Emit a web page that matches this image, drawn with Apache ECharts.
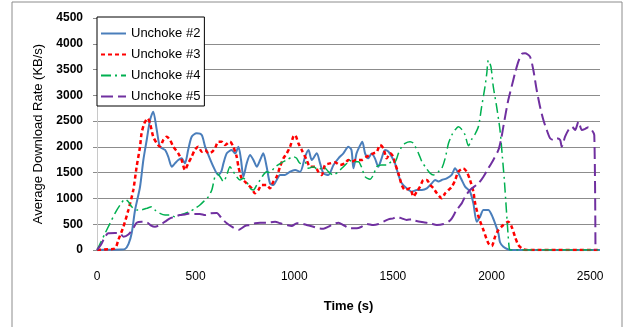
<!DOCTYPE html>
<html>
<head>
<meta charset="utf-8">
<script src="https://cdn.jsdelivr.net/npm/echarts@6/dist/echarts.min.js"></script>
<style>
  html, body { margin: 0; padding: 0; background: #fff; }
  #chart { width: 631px; height: 327px; }
</style>
</head>
<body>
<div id="chart"></div>
<script>
// series names
const names = ["Unchoke #2", "Unchoke #3", "Unchoke #4", "Unchoke #5"];

// [time (s), average download rate (KB/s)]
const unchoke2 = [[0,0],[60,5],[120,10],[142,20],[160,120],[176,330],[193,776],[218,1222],[235,1746],[252,2134],[269,2522],[285,2683],[303,2328],[319,2004],[345,1940],[361,1810],[379,1616],[395,1680],[412,1746],[429,1780],[446,1680],[462,1940],[480,2198],[505,2263],[531,2230],[548,2004],[565,1840],[590,1616],[615,1455],[630,1520],[641,1680],[658,1875],[683,1940],[700,1870],[717,2004],[730,1750],[742,1422],[759,1682],[776,1843],[793,1746],[810,1616],[827,1746],[843,1875],[860,1616],[877,1293],[894,1260],[911,1358],[928,1455],[953,1455],[979,1519],[1004,1550],[1030,1519],[1055,1810],[1072,1940],[1089,1746],[1114,1875],[1131,1680],[1148,1487],[1173,1455],[1199,1648],[1224,1778],[1249,1875],[1274,2004],[1290,1940],[1300,1584],[1316,1875],[1330,2000],[1345,2101],[1359,1875],[1375,1780],[1392,1870],[1409,1778],[1426,1616],[1443,1778],[1460,1940],[1477,1910],[1494,1810],[1511,1680],[1528,1455],[1545,1293],[1570,1196],[1596,1131],[1621,1164],[1647,1164],[1672,1196],[1697,1293],[1714,1358],[1731,1330],[1748,1358],[1773,1390],[1798,1455],[1815,1584],[1832,1487],[1849,1358],[1866,1228],[1891,1131],[1908,905],[1925,549],[1942,646],[1959,776],[1984,776],[2001,679],[2018,518],[2035,324],[2043,150],[2060,65],[2085,10],[2100,0],[2550,0]];

const unchoke3 = [[0,0],[40,10],[91,30],[108,194],[134,452],[159,776],[184,1164],[201,1616],[218,2004],[226,2263],[240,2457],[257,2555],[269,2457],[285,2198],[303,2070],[319,2004],[336,2134],[353,2198],[370,2134],[387,2004],[412,1875],[429,1746],[446,1552],[462,1680],[480,1810],[496,1940],[513,2004],[531,1907],[548,1940],[565,1875],[582,1900],[598,1972],[615,2101],[632,2101],[649,2037],[674,2101],[691,2004],[708,1810],[717,1616],[733,1390],[750,1325],[767,1261],[784,1196],[801,1100],[818,1164],[835,1261],[860,1261],[877,1196],[894,1325],[911,1422],[928,1616],[945,1778],[962,1875],[979,2004],[995,2198],[1004,2230],[1021,2070],[1038,1940],[1063,1746],[1080,1616],[1105,1616],[1122,1519],[1139,1455],[1156,1649],[1181,1680],[1207,1700],[1232,1648],[1257,1680],[1274,1746],[1290,1713],[1316,1746],[1342,1746],[1367,1810],[1384,1840],[1401,1875],[1418,1900],[1435,2037],[1452,1972],[1469,1778],[1486,1875],[1502,1810],[1511,1680],[1528,1487],[1545,1261],[1562,1164],[1587,1196],[1604,1034],[1621,1131],[1638,1228],[1655,1358],[1672,1358],[1689,1261],[1706,1196],[1723,1100],[1748,1002],[1765,1100],[1782,1164],[1799,1228],[1816,1358],[1832,1519],[1857,1584],[1874,1519],[1891,1358],[1908,1131],[1917,905],[1934,646],[1959,388],[1984,130],[2001,78],[2018,259],[2035,388],[2060,485],[2085,549],[2102,452],[2119,259],[2136,97],[2161,13],[2180,0],[2550,0]];

const unchoke4 = [[0,0],[41,324],[66,518],[91,711],[117,873],[142,983],[159,937],[176,840],[201,776],[226,780],[252,808],[277,840],[294,776],[319,711],[345,679],[370,680],[395,646],[420,680],[446,711],[471,744],[497,808],[522,873],[548,970],[565,1034],[582,1164],[590,1293],[598,1422],[610,1480],[624,1422],[641,1325],[658,1455],[674,1616],[691,1519],[708,1422],[725,1358],[742,1390],[759,1325],[776,1196],[793,1164],[810,1261],[827,1358],[843,1455],[860,1519],[877,1500],[900,1600],[930,1680],[962,1746],[995,1810],[1012,1780],[1030,1680],[1055,1700],[1072,1584],[1097,1616],[1122,1552],[1148,1616],[1173,1519],[1198,1455],[1224,1519],[1241,1584],[1266,1680],[1274,1746],[1300,1713],[1325,1713],[1342,1600],[1359,1422],[1384,1371],[1401,1455],[1418,1616],[1443,1648],[1469,1648],[1494,1713],[1511,1713],[1528,1875],[1545,2004],[1562,2070],[1587,2101],[1604,2070],[1630,1875],[1647,1713],[1664,1616],[1689,1487],[1706,1455],[1731,1519],[1748,1584],[1765,1778],[1782,2070],[1799,2230],[1815,2328],[1832,2392],[1849,2340],[1866,2230],[1883,2020],[1900,2150],[1917,2250],[1934,2400],[1950,2780],[1967,3168],[1976,3426],[1984,3680],[1997,3556],[2009,3168],[2026,2780],[2043,2328],[2055,1810],[2065,1358],[2072,970],[2080,518],[2089,65],[2095,0],[2550,0]];

const unchoke5 = [[0,0],[20,100],[40,250],[57,324],[91,330],[117,324],[134,259],[159,300],[184,421],[201,530],[226,550],[252,540],[277,466],[294,452],[319,485],[345,550],[370,614],[395,646],[420,679],[446,690],[471,711],[497,700],[522,700],[548,679],[573,711],[607,720],[632,614],[658,518],[683,452],[717,388],[750,466],[776,485],[801,518],[827,530],[860,530],[903,549],[928,518],[962,485],[987,466],[1013,518],[1038,510],[1063,485],[1097,452],[1122,420],[1148,413],[1173,452],[1198,505],[1224,530],[1249,485],[1283,420],[1317,420],[1342,452],[1367,505],[1401,485],[1427,505],[1452,549],[1477,595],[1502,614],[1519,646],[1545,614],[1570,582],[1596,600],[1613,570],[1655,537],[1689,518],[1723,485],[1757,505],[1782,549],[1799,614],[1823,776],[1849,905],[1866,1034],[1891,1164],[1934,1293],[1959,1422],[1984,1584],[2009,1746],[2035,1940],[2048,2134],[2060,2392],[2072,2651],[2085,2910],[2102,3168],[2119,3428],[2136,3653],[2153,3802],[2170,3815],[2195,3750],[2212,3492],[2229,3104],[2246,2780],[2263,2522],[2280,2328],[2297,2167],[2314,2134],[2331,2167],[2348,2134],[2356,2004],[2373,2198],[2390,2328],[2407,2392],[2424,2330],[2441,2489],[2458,2328],[2475,2350],[2491,2380],[2508,2328],[2521,2231],[2527,0]];

const Chart = echarts.init(document.getElementById("chart"));

const mkLine = (name, data, color, width, type) => ({
  name,
  type: "line",
  data,
  smooth: 0.25,
  symbol: "none",
  lineStyle: { color, width, type },
  itemStyle: { color },
});

// hide the gridline at the top value (4500)
const gridColors = ["#8c8c8c", "#8c8c8c", "#8c8c8c", "#8c8c8c", "#8c8c8c",
  "#8c8c8c", "#8c8c8c", "#8c8c8c", "#8c8c8c", "rgba(0,0,0,0)"];

const option = {
  animation: false,
  backgroundColor: "#fff",
  textStyle: { fontFamily: "Liberation Sans, Arial, sans-serif" },
  graphic: [
    {
      type: "rect",
      shape: { x: 12, y: 2, width: 610, height: 340 },
      style: { fill: "none", stroke: "#8c8c8c", lineWidth: 1 },
      silent: true,
    },
  ],
  grid: { left: 97, right: 31, top: 18, bottom: 77 },
  legend: {
    data: names,
    orient: "vertical",
    left: 97,
    top: 17,
    padding: [10, 4, 3, 3],
    itemGap: 8,
    itemWidth: 25,
    itemHeight: 14,
    backgroundColor: "#fff",
    borderColor: "#000",
    borderWidth: 1,
    itemStyle: { opacity: 0 },
    textStyle: { fontSize: 13, color: "#000", fontFamily: "Liberation Sans, Arial, sans-serif" },
  },
  xAxis: {
    type: "value",
    min: 0,
    max: 2550,
    interval: 500,
    name: "Time (s)",
    nameLocation: "middle",
    nameGap: 50,
    nameTextStyle: { fontSize: 13, fontWeight: "bold", color: "#000" },
    axisLine: { show: false },
    axisTick: { show: false },
    splitLine: { show: false },
    axisLabel: {
      margin: 21,
      fontSize: 12,
      color: "#000",
      formatter: (v) => (v % 500 === 0 ? String(v) : ""),
    },
  },
  yAxis: {
    type: "value",
    min: 0,
    max: 4500,
    interval: 500,
    name: "Average Download Rate (KB/s)",
    nameLocation: "middle",
    nameGap: 52,
    nameTextStyle: { fontSize: 13, color: "#000" },
    axisLine: { show: true, lineStyle: { color: "#c8c8c8", width: 1 } },
    axisTick: { show: true, length: 4, lineStyle: { color: "#8c8c8c" } },
    axisLabel: {
      margin: 14,
      fontSize: 12,
      fontWeight: "bold",
      color: "#000",
      formatter: (v) => String(v),
    },
    splitLine: { show: true, lineStyle: { color: gridColors, width: 1 } },
  },
  series: [
    mkLine(names[0], unchoke2, "#4a7ebb", 2, "solid"),
    mkLine(names[1], unchoke3, "#ff0000", 2.5, [4, 3]),
    mkLine(names[2], unchoke4, "#00b050", 1.5, [10, 4, 2, 4]),
    mkLine(names[3], unchoke5, "#7030a0", 2, [12, 5]),
  ],
};

Chart.setOption(option);
</script>
</body>
</html>
